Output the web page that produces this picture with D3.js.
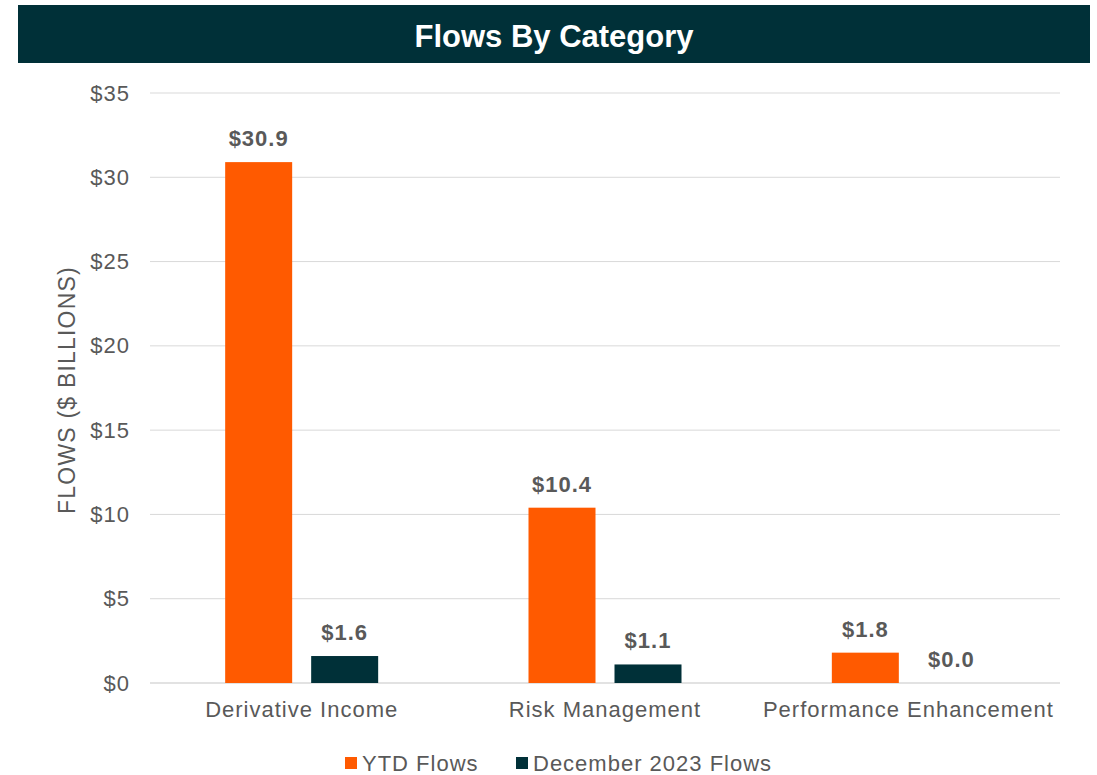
<!DOCTYPE html>
<html>
<head>
<meta charset="utf-8">
<script src="https://cdn.jsdelivr.net/npm/d3@7"></script>
<style>
  body { margin: 0; background: #fff; }
  text { font-family: "Liberation Sans", Arial, sans-serif; }
</style>
</head>
<body>
<div id="chart"></div>
<script>
// data
var categories = ["Derivative Income", "Risk Management", "Performance Enhancement"];
var seriesNames = ["YTD Flows", "December 2023 Flows"];
var ytdFlows = [30.9, 10.4, 1.8];
var decFlows = [1.6, 1.1, 0.0];
var yTicks = [0, 5, 10, 15, 20, 25, 30, 35];
var colors = ["#ff5a00", "#003038"];

var W = 1097, H = 775;
var margin = {top: 93, right: 37, bottom: 92, left: 150},
    width = W - margin.left - margin.right,
    height = H - margin.top - margin.bottom;

var svg = d3.select("#chart")
  .append("svg")
    .attr("width", W)
    .attr("height", H);

// title bar
svg.append("rect")
  .attr("x", 18).attr("y", 5)
  .attr("width", 1072).attr("height", 58)
  .attr("fill", "#003038");
svg.append("text")
  .attr("x", 554).attr("y", 47)
  .attr("text-anchor", "middle")
  .attr("fill", "#fff")
  .style("font-size", "31px")
  .style("font-weight", "bold")
  .text("Flows By Category");

var g = svg.append("g")
  .attr("transform", "translate(" + margin.left + "," + margin.top + ")");

var rows = categories.map(function(c, i) {
  return {cat: c, values: [ytdFlows[i], decFlows[i]]};
});

var x = d3.scaleBand()
  .domain(categories)
  .range([0, width]);

var y = d3.scaleLinear()
  .domain([0, 35])
  .range([height, 0]);

// gridlines
g.selectAll(".grid")
  .data(yTicks)
  .enter().append("line")
    .attr("x1", 0).attr("x2", width)
    .attr("y1", function(d) { return y(d); })
    .attr("y2", function(d) { return y(d); })
    .attr("stroke", "#d9d9d9")
    .attr("stroke-width", function(d) { return d === 0 ? 1.5 : 1; });

// y axis
var yAxis = g.append("g")
  .call(d3.axisLeft(y).tickValues(yTicks).tickSize(0).tickPadding(20)
    .tickFormat(function(d) { return "$" + d; }));
yAxis.select(".domain").remove();
yAxis.selectAll("text")
  .attr("fill", "#595959")
  .style("font-size", "22px")
  .style("letter-spacing", "1px");

// x axis
var xAxis = g.append("g")
  .attr("transform", "translate(0," + height + ")")
  .call(d3.axisBottom(x).tickSize(0).tickPadding(18));
xAxis.select(".domain").remove();
xAxis.selectAll("text")
  .attr("fill", "#595959")
  .style("font-size", "22px")
  .style("letter-spacing", "1px");

// axis title
svg.append("text")
  .attr("transform", "translate(75," + (margin.top + height / 2 + 2) + ") rotate(-90)")
  .attr("text-anchor", "middle")
  .attr("fill", "#595959")
  .style("font-size", "23px")
  .style("letter-spacing", "1.2px")
  .text("FLOWS ($ BILLIONS)");

// bars
var barW = 67, gap = 19;
var groups = g.selectAll(".cat")
  .data(rows)
  .enter().append("g")
    .attr("transform", function(d) {
      return "translate(" + (x(d.cat) + x.bandwidth() / 2 - barW - gap / 2) + ",0)";
    });

groups.selectAll("rect")
  .data(function(d) { return d.values; })
  .enter().append("rect")
    .attr("x", function(d, i) { return i * (barW + gap); })
    .attr("y", function(d) { return y(d); })
    .attr("width", barW)
    .attr("height", function(d) { return height - y(d); })
    .attr("fill", function(d, i) { return colors[i]; });

groups.selectAll(".lbl")
  .data(function(d) { return d.values; })
  .enter().append("text")
    .attr("x", function(d, i) { return i * (barW + gap) + barW / 2; })
    .attr("y", function(d) { return y(d) - 16; })
    .attr("text-anchor", "middle")
    .attr("fill", "#595959")
    .style("font-size", "22px")
    .style("font-weight", "bold")
    .style("letter-spacing", "1px")
    .text(function(d) { return "$" + d.toFixed(1); });

// legend
var legendX = [345, 516];
var legend = svg.selectAll(".legend")
  .data(seriesNames)
  .enter().append("g")
    .attr("transform", function(d, i) { return "translate(" + legendX[i] + ",757)"; });
legend.append("rect")
  .attr("width", 12).attr("height", 12)
  .attr("fill", function(d, i) { return colors[i]; });
legend.append("text")
  .attr("x", 17).attr("y", 14)
  .attr("fill", "#595959")
  .style("font-size", "22px")
  .style("letter-spacing", "1px")
  .text(function(d) { return d; });
</script>
</body>
</html>
